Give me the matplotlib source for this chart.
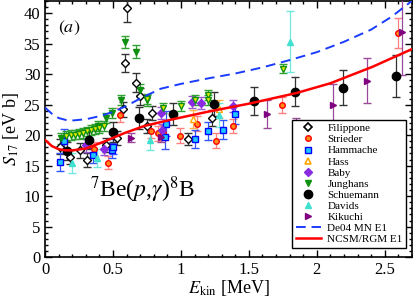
import numpy as np
import matplotlib
matplotlib.use("Agg")
import matplotlib.pyplot as plt
from matplotlib.lines import Line2D
from matplotlib.ticker import MultipleLocator

plt.rcParams['font.family'] = 'serif'
plt.rcParams['font.serif'] = ['Liberation Serif', 'DejaVu Serif']
plt.rcParams['mathtext.fontset'] = 'stix'

# DATA ------------------------------------------------------------------------
fil_x = [0.11, 0.18, 0.26, 0.31, 0.45, 0.53, 0.57, 0.59, 0.60, 0.67, 0.70, 0.75, 0.79, 1.05, 1.23]
fil_y = [18.1, 16.4, 17.5, 15.9, 18.4, 19.5, 24.2, 31.8, 40.9, 28.6, 26.4, 21.5, 23.6, 19.4, 22.8]
fil_e = [1.2, 1.2, 1.2, 1.2, 1.2, 1.2, 1.2, 1.5, 2.3, 1.5, 1.4, 1.2, 1.2, 1.0, 1.3]

str_x = [0.36, 0.46, 0.55, 0.78, 0.83, 0.87, 0.99, 1.12, 1.26, 1.38, 1.74, 2.60]
str_y = [17.8, 15.5, 23.3, 20.7, 20.3, 20.4, 19.9, 21.9, 19.1, 21.5, 25.0, 36.7]
str_e = [1.0, 1.0, 1.2, 1.2, 1.2, 1.2, 1.2, 1.2, 1.2, 1.2, 1.3, 2.5]

ham_x = [0.11, 0.14, 0.35, 0.49, 0.50, 0.88, 0.89, 1.10, 1.20, 1.31, 1.40]
ham_y = [15.6, 19.0, 16.7, 17.5, 18.1, 19.7, 21.9, 19.4, 20.7, 20.9, 23.4]
ham_e = [1.5, 2.0, 1.2, 1.2, 1.2, 2.0, 2.0, 1.5, 1.5, 1.5, 1.5]

has_x = [1.09, 1.28]
has_y = [22.6, 24.3]
has_e = [1.5, 1.5]

bab_x = [0.30, 0.43, 0.85, 0.86, 1.08, 1.15, 1.38]
bab_y = [18.3, 17.7, 23.6, 20.8, 25.4, 25.3, 24.8]
bab_e = [1.0, 1.0, 1.0, 1.0, 1.0, 1.0, 1.0]

jun_x = [0.12, 0.39, 0.45, 0.49, 0.56, 0.59, 0.67, 0.70, 0.75]
jun_y = [19.5, 21.5, 22.8, 23.6, 25.7, 35.3, 33.7, 27.4, 25.7]
jun_e = [0.9, 0.8, 0.8, 0.8, 0.8, 1.0, 1.1, 0.9, 0.9]

juny_x = [0.15, 0.19, 0.22, 0.25, 0.28, 0.31, 0.34, 0.37, 0.40, 0.43, 0.75, 0.87, 1.00, 1.10, 1.20, 1.20, 1.75]
juny_y = [19.8, 20.0, 20.1, 20.2, 20.4, 20.6, 20.8, 21.0, 21.2, 21.5, 25.9, 24.5, 24.8, 25.7, 26.6, 25.7, 30.9]
juny_e = [0.8, 0.8, 0.8, 0.8, 0.8, 0.8, 0.8, 0.8, 0.8, 0.8, 0.8, 0.8, 0.8, 0.8, 0.8, 0.8, 0.8]

sch_x = [0.16, 0.32, 0.50, 0.69, 0.94, 1.24, 1.54, 1.84, 2.19, 2.58]
sch_y = [17.4, 19.2, 20.5, 22.8, 23.5, 25.1, 25.6, 27.1, 27.8, 29.7]
sch_e = [1.5, 1.5, 1.6, 1.8, 1.8, 1.9, 2.3, 2.4, 2.8, 3.4]

dav_x = [0.20, 0.38, 0.77, 1.28, 1.80]
dav_y = [15.4, 16.2, 19.2, 23.3, 35.3]
dav_e = [1.6, 1.5, 1.6, 2.0, 5.0]

kik_x = [0.63, 0.85, 1.63, 1.85, 2.12, 2.37, 2.63]
kik_y = [19.6, 19.7, 23.5, 19.8, 24.9, 28.9, 36.9]
kik_e = [0.8, 0.8, 2.3, 3.0, 3.5, 3.7, 7.0]

de04_x = [0, 0.05, 0.1, 0.15, 0.2, 0.3, 0.4, 0.5, 0.6, 0.7, 0.85, 1.0, 1.2, 1.4, 1.6, 1.8, 2.0, 2.2, 2.4, 2.55, 2.7]
de04_y = [24.5, 23.5, 22.8, 22.5, 22.4, 22.6, 23.1, 23.8, 24.8, 26.0, 27.6, 28.4, 29.3, 30.1, 31.1, 32.3, 33.6, 35.3, 37.3, 39.4, 42.0]

ncsm_x = [0, 0.05, 0.1, 0.15, 0.2, 0.3, 0.43, 0.58, 0.73, 0.94, 1.19, 1.51, 1.85, 2.1, 2.41, 2.7]
ncsm_y = [19.2, 18.2, 17.7, 17.5, 17.5, 17.8, 18.9, 20.3, 21.5, 22.6, 23.8, 25.2, 26.9, 28.5, 31.2, 34.1]

# PLOT ------------------------------------------------------------------------
fig = plt.figure(figsize=(4.14, 2.99), dpi=100)
ax = fig.add_axes([0.109, 0.14, 0.886, 0.857])

ms = 4
# (x, y, err, marker, face, edge, errcolor)
sets = [
    (fil_x, fil_y, fil_e, 'D', 'white', 'black', '#333333'),
    (str_x, str_y, str_e, 'o', '#ff8c1a', 'red', '#ff7f7f'),
    (ham_x, ham_y, ham_e, 's', '#1ec8ff', 'blue', '#3355ff'),
    (has_x, has_y, has_e, '^', 'white', 'orange', '#ffb347'),
    (bab_x, bab_y, bab_e, 'D', '#8a2be2', '#8a2be2', '#9b59d0'),
    (jun_x, jun_y, jun_e, 'v', '#109010', '#109010', '#30a030'),
    (juny_x, juny_y, juny_e, 'v', '#e8e800', '#109010', '#30a030'),
    (sch_x, sch_y, sch_e, 'o', 'black', 'black', '#333333'),
    (dav_x, dav_y, dav_e, '^', '#40e0d0', '#40e0d0', '#70e8dc'),
    (kik_x, kik_y, kik_e, '>', '#800080', '#800080', '#9a4a9a'),
]
for x, y, e, m, fc, ec, erc in sets:
    size = 6 if fc == 'black' else ms
    ax.errorbar(x, y, yerr=e, fmt=m, ms=size, mfc=fc, mec=ec, mew=1.0,
                ecolor=erc, elinewidth=0.9, capsize=3, capthick=0.9, zorder=3)

ax.plot(de04_x, de04_y, color='#1a3cff', lw=1.4, ls=(0, (5, 3)), zorder=4)
ax.plot(ncsm_x, ncsm_y, color='red', lw=1.8, zorder=4)

ax.set_xlim(0, 2.7)
ax.set_ylim(0, 42)
ax.xaxis.set_major_locator(MultipleLocator(0.5))
ax.xaxis.set_minor_locator(MultipleLocator(0.1))
ax.yaxis.set_major_locator(MultipleLocator(5))
ax.yaxis.set_minor_locator(MultipleLocator(1))
ax.set_xticks([0, 0.5, 1, 1.5, 2, 2.5])
ax.set_xticklabels(['0', '0.5', '1', '1.5', '2', '2.5'])
ax.tick_params(which='both', direction='in', top=True, right=True, labelsize=12, width=1.0)
ax.tick_params(which='major', length=5)
ax.tick_params(which='minor', length=2.5)
for s in ax.spines.values():
    s.set_linewidth(1.2)

ax.set_xlabel(r'$E_{\rm kin}$ [MeV]', fontsize=13, labelpad=0)
ax.set_ylabel(r'$S_{17}$ [eV b]', fontsize=13, labelpad=2)

ax.text(0.18, 37.5, r'$(a)$', fontsize=13, ha='center', va='center')
ax.text(0.72, 11, r'$^7$Be($p$,$\gamma$)$^8$B', fontsize=17, ha='center', va='center')

handles = [
    Line2D([], [], ls='none', marker='D', ms=4, mfc='white', mec='black', mew=1.2),
    Line2D([], [], ls='none', marker='o', ms=4, mfc='#ff8c1a', mec='red'),
    Line2D([], [], ls='none', marker='s', ms=4, mfc='#1ec8ff', mec='blue'),
    Line2D([], [], ls='none', marker='^', ms=5, mfc='white', mec='orange', mew=1.2),
    Line2D([], [], ls='none', marker='D', ms=4, mfc='#8a2be2', mec='#8a2be2'),
    Line2D([], [], ls='none', marker='v', ms=4, mfc='#109010', mec='#109010'),
    Line2D([], [], ls='none', marker='o', ms=6, mfc='black', mec='black'),
    Line2D([], [], ls='none', marker='^', ms=5, mfc='#40e0d0', mec='#40e0d0'),
    Line2D([], [], ls='none', marker='>', ms=4, mfc='#800080', mec='#800080'),
    Line2D([], [], color='#1a3cff', lw=1.4, ls=(0, (5, 3))),
    Line2D([], [], color='red', lw=1.8),
]
labels = ['Filippone', 'Strieder', 'Hammache', 'Hass', 'Baby', 'Junghans',
          'Schuemann', 'Davids', 'Kikuchi', 'De04 MN E1', 'NCSM/RGM E1']
leg = ax.legend(handles, labels, loc='lower right', bbox_to_anchor=(0.985, 0.035),
                borderaxespad=0, fontsize=8, labelspacing=0.12, handlelength=2.2,
                handletextpad=0.6, borderpad=0.35, fancybox=False, framealpha=1)
leg.get_frame().set_edgecolor('black')
leg.get_frame().set_linewidth(1.0)
leg.set_zorder(5)

plt.savefig('out.png', dpi=100)
